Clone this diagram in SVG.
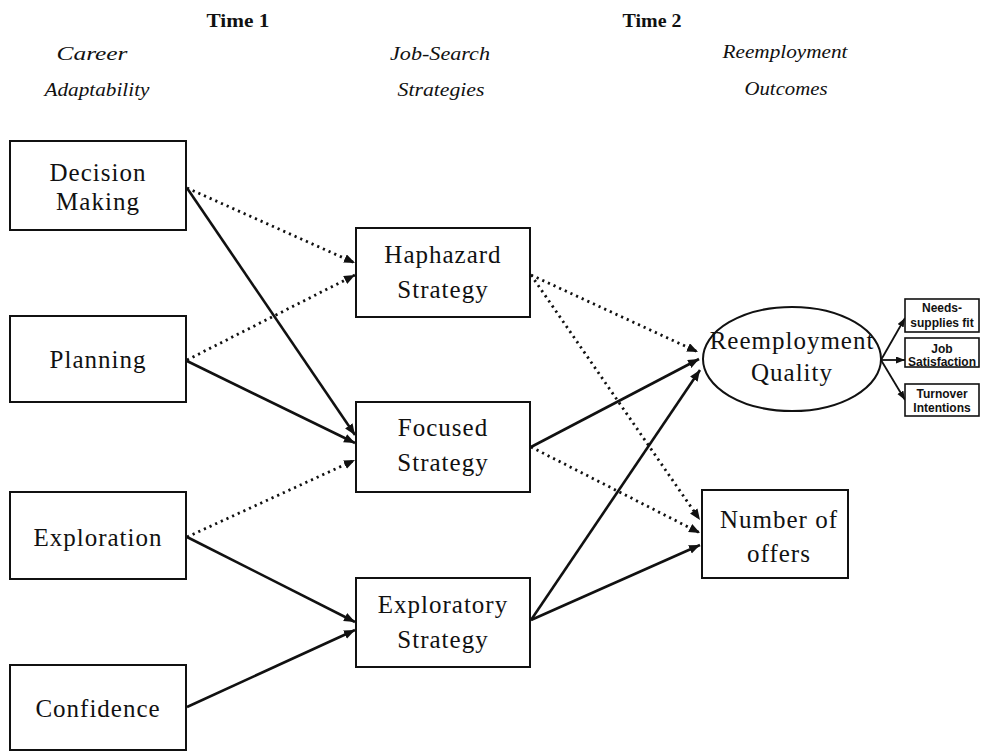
<svg xmlns="http://www.w3.org/2000/svg" width="981" height="751" viewBox="0 0 981 751">
<style>
.bg{fill:#fff}
.box{fill:#fff;stroke:#111;stroke-width:2}
.sbox{fill:#fff;stroke:#111;stroke-width:1.6}
.lbl{font-family:"Liberation Serif","Times New Roman",serif;font-size:25px;letter-spacing:1px;fill:#111;text-anchor:middle}
.hdr{font-family:"Liberation Serif","Times New Roman",serif;font-size:19px;font-style:italic;fill:#111;text-anchor:middle}
.time{font-family:"Liberation Serif","Times New Roman",serif;font-size:19px;font-weight:bold;fill:#111;text-anchor:middle}
.sm{font-family:"Liberation Sans",Arial,sans-serif;font-size:12px;font-weight:bold;fill:#111;text-anchor:middle}
.solid{stroke:#111;stroke-width:2.6;fill:none;marker-end:url(#arr)}
.dot{stroke:#111;stroke-width:2.8;stroke-dasharray:2.2 4;fill:none;marker-end:url(#arr)}
.thin{stroke:#111;stroke-width:1.8;fill:none;marker-end:url(#arrs)}
</style>
<defs>
<marker id="arr" markerUnits="userSpaceOnUse" markerWidth="12" markerHeight="10" refX="11" refY="4.5" orient="auto">
<path d="M0,0 L11,4.5 L0,9 z" fill="#111"/>
</marker>
<marker id="arrs" markerUnits="userSpaceOnUse" markerWidth="10" markerHeight="8" refX="9" refY="3.5" orient="auto">
<path d="M0,0 L9,3.5 L0,7 z" fill="#111"/>
</marker>
</defs>
<rect class="bg" x="0" y="0" width="981" height="751"/>

<g id="headers">
<text class="time" x="238" y="27" textLength="63" lengthAdjust="spacingAndGlyphs">Time 1</text>
<text class="time" x="652" y="27" textLength="59" lengthAdjust="spacingAndGlyphs">Time 2</text>
<text class="hdr" x="92" y="60" textLength="71" lengthAdjust="spacingAndGlyphs">Career</text>
<text class="hdr" x="97" y="96" textLength="105" lengthAdjust="spacingAndGlyphs">Adaptability</text>
<text class="hdr" x="440" y="60" textLength="100" lengthAdjust="spacingAndGlyphs">Job-Search</text>
<text class="hdr" x="441" y="96" textLength="87" lengthAdjust="spacingAndGlyphs">Strategies</text>
<text class="hdr" x="785" y="58" textLength="125" lengthAdjust="spacingAndGlyphs">Reemployment</text>
<text class="hdr" x="786" y="95" textLength="83" lengthAdjust="spacingAndGlyphs">Outcomes</text>
</g>

<g id="connectors">
<line class="dot" x1="187" y1="188" x2="355" y2="263"/>
<line class="dot" x1="187" y1="360" x2="355" y2="275"/>
<line class="solid" x1="187" y1="188" x2="355" y2="435"/>
<line class="solid" x1="187" y1="361" x2="355" y2="443"/>
<line class="dot" x1="187" y1="537" x2="355" y2="460"/>
<line class="solid" x1="187" y1="537" x2="355" y2="622"/>
<line class="solid" x1="187" y1="707" x2="355" y2="630"/>
<line class="dot" x1="531" y1="275" x2="698" y2="352"/>
<line class="dot" x1="531" y1="275" x2="700" y2="520"/>
<line class="solid" x1="531" y1="447" x2="699" y2="359"/>
<line class="dot" x1="531" y1="447" x2="700" y2="533"/>
<line class="solid" x1="531" y1="620" x2="700" y2="370"/>
<line class="solid" x1="531" y1="620" x2="700" y2="545"/>
<line class="thin" x1="881" y1="360" x2="905" y2="318"/>
<line class="thin" x1="881" y1="360" x2="905" y2="360"/>
<line class="thin" x1="881" y1="360" x2="905" y2="400"/>
</g>

<g id="decision-making">
<rect class="box" x="10" y="141" width="176" height="89"/>
<text class="lbl" x="98" y="181">Decision</text>
<text class="lbl" x="98" y="210">Making</text>
</g>
<g id="planning">
<rect class="box" x="10" y="316" width="176" height="86"/>
<text class="lbl" x="98" y="368">Planning</text>
</g>
<g id="exploration">
<rect class="box" x="10" y="492" width="176" height="87"/>
<text class="lbl" x="98" y="546">Exploration</text>
</g>
<g id="confidence">
<rect class="box" x="10" y="665" width="176" height="85"/>
<text class="lbl" x="98" y="717">Confidence</text>
</g>

<g id="haphazard">
<rect class="box" x="356" y="228" width="174" height="89"/>
<text class="lbl" x="443" y="263">Haphazard</text>
<text class="lbl" x="443" y="298">Strategy</text>
</g>
<g id="focused">
<rect class="box" x="356" y="402" width="174" height="90"/>
<text class="lbl" x="443" y="436">Focused</text>
<text class="lbl" x="443" y="471">Strategy</text>
</g>
<g id="exploratory">
<rect class="box" x="356" y="578" width="174" height="89"/>
<text class="lbl" x="443" y="613">Exploratory</text>
<text class="lbl" x="443" y="648">Strategy</text>
</g>

<g id="reemployment-quality">
<ellipse class="box" cx="792" cy="359" rx="89" ry="52"/>
<text class="lbl" x="792" y="349">Reemployment</text>
<text class="lbl" x="792" y="381">Quality</text>
</g>
<g id="number-of-offers">
<rect class="box" x="702" y="490" width="146" height="88"/>
<text class="lbl" x="779" y="528">Number of</text>
<text class="lbl" x="779" y="562">offers</text>
</g>

<g id="needs-supplies-fit">
<rect class="sbox" x="905" y="299" width="74" height="33"/>
<text class="sm" x="942" y="312">Needs-</text>
<text class="sm" x="942" y="327">supplies fit</text>
</g>
<g id="job-satisfaction">
<rect class="sbox" x="905" y="338" width="74" height="29"/>
<text class="sm" x="942" y="353">Job</text>
<text class="sm" x="942" y="366">Satisfaction</text>
</g>
<g id="turnover-intentions">
<rect class="sbox" x="905" y="384" width="74" height="32"/>
<text class="sm" x="942" y="398">Turnover</text>
<text class="sm" x="942" y="412">Intentions</text>
</g>
</svg>
